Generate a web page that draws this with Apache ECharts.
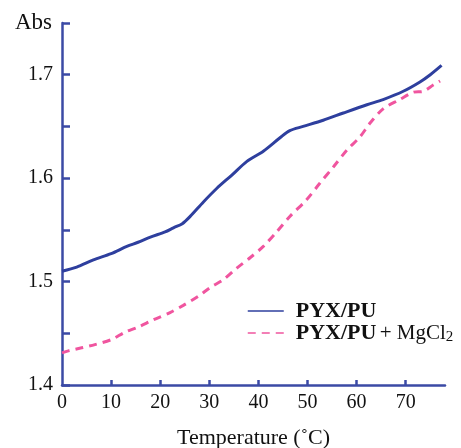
<!DOCTYPE html>
<html>
<head>
<meta charset="utf-8">
<script src="https://cdn.jsdelivr.net/npm/echarts@6/dist/echarts.min.js"></script>
<style>html,body{margin:0;padding:0;background:#fff}#c{width:461px;height:448px}</style>
</head>
<body>
<div id="c"></div>
<script>
const blueTemp = [0, 3, 6.4, 10, 13.2, 15.5, 18, 21, 22.7, 24.5, 26.1, 28.8, 31.5, 34.6, 37.6, 41, 44.4, 46.4, 49.1, 53.2, 57.3, 62.1, 65.4, 69.5, 72.9, 75, 77.3];
const blueAbs  = [1.510, 1.514, 1.521, 1.527, 1.534, 1.538, 1.543, 1.548, 1.552, 1.556, 1.563, 1.577, 1.590, 1.603, 1.616, 1.626, 1.639, 1.646, 1.650, 1.656, 1.663, 1.671, 1.676, 1.684, 1.693, 1.700, 1.709];
const pinkTemp = [0, 1.3, 4, 6.7, 10.1, 12.8, 15.5, 18.6, 22, 24.7, 27.8, 30.1, 32.9, 35.6, 38.3, 41, 43.7, 46.4, 49.8, 52.5, 55.3, 58, 60.7, 62.7, 65.4, 68.8, 71.5, 73.6, 75.6, 77];
const pinkAbs  = [1.431, 1.433, 1.436, 1.439, 1.444, 1.451, 1.456, 1.463, 1.470, 1.477, 1.486, 1.494, 1.502, 1.513, 1.523, 1.534, 1.548, 1.563, 1.579, 1.595, 1.611, 1.627, 1.640, 1.653, 1.667, 1.676, 1.683, 1.684, 1.690, 1.694];
const xTickLabels = [0, 10, 20, 30, 40, 50, 60, 70];
const xTicks = [10, 20, 30, 40, 50, 60, 70];
const yTickLabels = [1.4, 1.5, 1.6, 1.7];
const yTicks = [1.4, 1.45, 1.5, 1.55, 1.6, 1.65, 1.7, 1.75];
const seriesNames = ['PYX/PU', 'PYX/PU + MgCl2'];

const axisColor = '#3b4aa5';
const font = '"Liberation Serif", "DejaVu Serif", serif';
const zip = (a, b) => a.map((v, i) => [v, b[i]]);

const chart = echarts.init(document.getElementById('c'), null, {renderer: 'canvas'});
chart.setOption({
  animation: false,
  backgroundColor: '#fff',
  grid: {left: 62, right: 16, top: 23, bottom: 63, containLabel: false, outerBoundsMode: 'none'},
  legend: {
    orient: 'vertical',
    left: 242,
    top: 295,
    padding: 5,
    itemWidth: 36,
    itemHeight: 14,
    itemGap: 0,
    data: seriesNames,
    lineStyle: {width: 1.5},
    itemStyle: {opacity: 0},
    formatter: function (n) {
      return n === seriesNames[0] ? '{b|PYX/PU}' : '{b|PYX/PU} {n|+ MgCl}{s|2}';
    },
    textStyle: {
      padding: [0, 0, 0, 7],
      rich: {
        b: {fontFamily: font, fontSize: 22, fontWeight: 'bold', color: '#111'},
        n: {fontFamily: font, fontSize: 21, color: '#111'},
        s: {fontFamily: font, fontSize: 15, color: '#111', verticalAlign: 'bottom', padding: [9, 0, 0, 0]}
      }
    }
  },
  xAxis: {
    type: 'value', min: 0, max: 78,
    name: 'Temperature (\u02DAC)',
    nameLocation: 'middle', nameGap: 42,
    nameTextStyle: {fontFamily: font, fontSize: 22, color: '#111'},
    axisLine: {onZero: false, lineStyle: {color: axisColor, width: 2.5}},
    axisTick: {inside: true, length: 5, customValues: xTicks, lineStyle: {color: axisColor, width: 2.5}},
    axisLabel: {customValues: xTickLabels, fontFamily: font, fontSize: 20, color: '#111', margin: 8},
    splitLine: {show: false}
  },
  yAxis: {
    type: 'value', min: 1.4, max: 1.75,
    name: 'Abs', nameLocation: 'end', nameGap: 0,
    nameTextStyle: {fontFamily: font, fontSize: 23, color: '#111', align: 'right', verticalAlign: 'middle', padding: [0, 10, 0, 0]},
    axisLine: {onZero: false, lineStyle: {color: axisColor, width: 2.5}},
    axisTick: {inside: true, length: 8, customValues: yTicks, lineStyle: {color: axisColor, width: 2.5}},
    axisLabel: {customValues: yTickLabels, formatter: v => v.toFixed(1), fontFamily: font, fontSize: 20, color: '#111', margin: 9},
    splitLine: {show: false}
  },
  series: [
    {
      name: seriesNames[0], type: 'line', data: zip(blueTemp, blueAbs), smooth: 0.3,
      symbol: 'none', lineStyle: {color: '#2e3f9e', width: 3}, itemStyle: {color: '#2e3f9e'}
    },
    {
      name: seriesNames[1], type: 'line', data: zip(pinkTemp, pinkAbs), smooth: 0.3,
      symbol: 'none', lineStyle: {color: '#f0559f', width: 3, type: [8, 6]}, itemStyle: {color: '#f0559f'}
    }
  ]
});
</script>
</body>
</html>
